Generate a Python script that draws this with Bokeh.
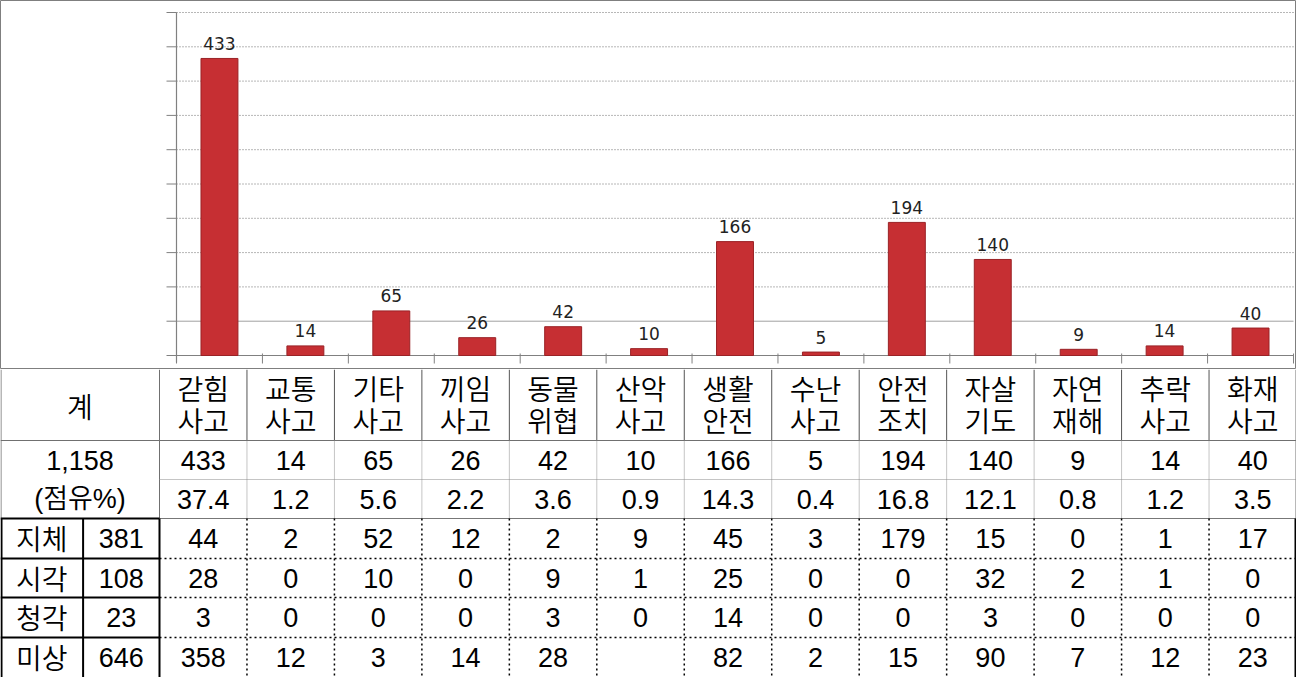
from bokeh.plotting import figure
from bokeh.layouts import column
from bokeh.models import Range1d, ColumnDataSource
from bokeh.core.properties import value
from bokeh.embed import file_html
from bokeh.resources import INLINE

# ---------------- data ----------------
categories = ["갇힘사고", "교통사고", "기타사고", "끼임사고", "동물위협", "산악사고", "생활안전",
              "수난사고", "안전조치", "자살기도", "자연재해", "추락사고", "화재사고"]
counts = [433, 14, 65, 26, 42, 10, 166, 5, 194, 140, 9, 14, 40]
shares = [37.4, 1.2, 5.6, 2.2, 3.6, 0.9, 14.3, 0.4, 16.8, 12.1, 0.8, 1.2, 3.5]
total_label = "계"
total_count = 1158
share_label = "(점유%)"
disability_types = ["지체", "시각", "청각", "미상"]
disability_totals = [381, 108, 23, 646]
jiche = [44, 2, 52, 12, 2, 9, 45, 3, 179, 15, 0, 1, 17]
sigak = [28, 0, 10, 0, 9, 1, 25, 0, 0, 32, 2, 1, 0]
cheonggak = [3, 0, 0, 0, 3, 0, 14, 0, 0, 3, 0, 0, 0]
misang = [358, 12, 3, 14, 28, None, 82, 2, 15, 90, 7, 12, 23]
y_ticks = [0, 50, 100, 150, 200, 250, 300, 350, 400, 450, 500]

# ---------------- layout constants ----------------
W = 1296
CH = 369          # chart part height
TH = 308          # table part height
FL, FR = 176, 1293
BASE, TOP = 355, 12
n = len(categories)
ux = (FR - FL) / n
y_max = y_ticks[-1]
uy = (BASE - TOP) / y_max

HANGUL = value("Noto Sans CJK KR DemiLight, Noto Sans CJK KR")
NUMF = value("Liberation Sans")
MIXF = value("Liberation Sans, Noto Sans CJK KR DemiLight, Noto Sans CJK KR")
FS_H = "28px"
FS_N = "27px"

# ---------------- chart ----------------
p1 = figure(width=W, height=CH, title=None,
            x_range=Range1d(-FL / ux, n + (W - FR) / ux),
            y_range=Range1d(-(CH - BASE) / uy, y_max + TOP / uy),
            x_axis_type=None, y_axis_type=None, toolbar_location=None,
            output_backend="svg", min_border=0, min_border_left=0,
            min_border_right=0, min_border_top=0, min_border_bottom=0)
p1.outline_line_color = "#7f7f7f"
p1.outline_line_width = 1
p1.background_fill_color = "white"
p1.border_fill_color = "white"

# grid lines
grid_dotted = [t for t in y_ticks[1:] if t != y_ticks[1]]
p1.segment(x0=[0] * len(grid_dotted), x1=[n] * len(grid_dotted), y0=grid_dotted, y1=grid_dotted,
           line_color="#6e6e6e", line_width=1, line_dash="1 2")
p1.segment(x0=[0], x1=[n], y0=[y_ticks[1]], y1=[y_ticks[1]], line_color="#a0a0a0", line_width=1)

# axes
p1.segment(x0=[0], x1=[0], y0=[-7 / uy], y1=[y_max], line_color="#808080", line_width=1.2)
p1.segment(x0=[-10 / ux] * len(y_ticks), x1=[0] * len(y_ticks), y0=y_ticks, y1=y_ticks,
           line_color="#808080", line_width=1)
bounds = list(range(n + 1))
p1.segment(x0=[0], x1=[n], y0=[0], y1=[0], line_color="#808080", line_width=1.2)
p1.segment(x0=bounds, x1=bounds, y0=[2 / uy] * len(bounds), y1=[-8 / uy] * len(bounds),
           line_color="#808080", line_width=1)

xs = [i + 0.5 for i in range(n)]
src = ColumnDataSource(dict(x=xs, top=counts, lab=[str(c) for c in counts]))
p1.vbar(x="x", top="top", bottom=0, width=0.43, source=src,
        fill_color="#c62f33", line_color="#9a2226", line_width=1)
p1.text(x="x", y="top", text="lab", source=src, text_align="center",
        text_baseline="alphabetic", y_offset=-15, text_font=value("DejaVu Sans"),
        text_font_size="17px", text_color="#222222")

# ---------------- table ----------------
p2 = figure(width=W, height=TH, title=None,
            x_range=Range1d(0, W), y_range=Range1d(TH, 0),
            x_axis_type=None, y_axis_type=None, toolbar_location=None,
            output_backend="svg", min_border=0, min_border_left=0,
            min_border_right=0, min_border_top=0, min_border_bottom=0)
p2.outline_line_color = None
p2.background_fill_color = "white"
p2.border_fill_color = "white"

L1 = 159.0
LS = 82.6
cw = (W - L1) / n
rows = [0, 71, 110, 149, 189, 228, 268, TH]
inner_x = [L1 + k * cw for k in range(1, n)]

def seg(x0, y0, x1, y1, **kw):
    p2.segment(x0=x0, y0=y0, x1=x1, y1=y1, **kw)

# gray solid thin
seg([0, 0.5, W - 0.5, L1, L1], [rows[1], 0, 0, 0, rows[1]],
    [W, 0.5, W - 0.5, L1, L1], [rows[1], rows[3], rows[3], rows[1], rows[3]],
    line_color="#707070", line_width=1)
seg(inner_x, [0] * len(inner_x), inner_x, [rows[1]] * len(inner_x),
    line_color="#555555", line_width=1)
seg([L1], [rows[3]], [W], [rows[3]], line_color="#777777", line_width=1)
# gray dotted thin
seg([L1], [rows[2]], [W], [rows[2]], line_color="#8a8a8a", line_width=1, line_dash="1 1")
seg(inner_x, [rows[1]] * len(inner_x), inner_x, [rows[3]] * len(inner_x),
    line_color="#8a8a8a", line_width=1, line_dash="1 1")
# black thick
hy = rows[3:7]
seg([0] * len(hy), hy, [L1] * len(hy), hy, line_color="black", line_width=2)
vx = [1, LS, L1, W - 1]
seg(vx, [rows[3]] * 4, vx, [TH] * 4, line_color="black", line_width=2)
# black dotted
hy2 = rows[4:7]
seg([L1] * len(hy2), hy2, [W] * len(hy2), hy2, line_color="black", line_width=1.5, line_dash="2 3")
seg(inner_x, [rows[3]] * len(inner_x), inner_x, [TH] * len(inner_x),
    line_color="black", line_width=1.5, line_dash="2 3")

# texts
cx = [L1 + (i + 0.5) * cw for i in range(n)]

def txt(x, y, t, font, size):
    p2.text(x=x, y=y, text=t, text_align="center", text_baseline="middle",
            text_font=font, text_font_size=size, text_color="black")

txt([L1 / 2], [36], [total_label], HANGUL, FS_H)
txt(cx, [18] * n, [c[:2] for c in categories], HANGUL, FS_H)
txt(cx, [50] * n, [c[2:] for c in categories], HANGUL, FS_H)

rc = [rows[i] + 19.5 for i in range(1, 7)]
txt([L1 / 2], [rc[0]], [f"{total_count:,}"], NUMF, FS_N)
txt([L1 / 2], [rc[1]], [share_label], MIXF, FS_N)
txt(cx, [rc[0]] * n, [str(v) for v in counts], NUMF, FS_N)
txt(cx, [rc[1]] * n, [f"{v:.1f}" for v in shares], NUMF, FS_N)

for r, (name, tot, vals) in enumerate(zip(disability_types, disability_totals,
                                          [jiche, sigak, cheonggak, misang])):
    y = rc[2 + r]
    txt([LS / 2], [y], [name], HANGUL, FS_H)
    txt([(LS + L1) / 2], [y], [str(tot)], NUMF, FS_N)
    txt(cx, [y] * n, ["" if v is None else str(v) for v in vals], NUMF, FS_N)

layout = column(p1, p2, spacing=0)
open("out.html", "w").write(file_html(layout, INLINE))
